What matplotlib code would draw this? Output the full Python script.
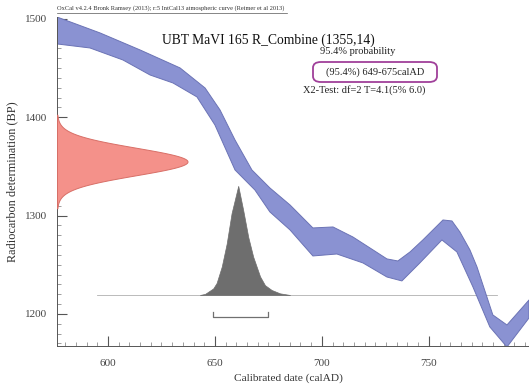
import numpy as np
import matplotlib
matplotlib.use("Agg")
import matplotlib.pyplot as plt
from matplotlib.patches import FancyBboxPatch

# ---- data ----
curve_upper_year = [576.2, 596.3, 615.0, 633.7, 645.4, 652.4, 659.4, 667.3, 675.7, 685.1,
                    695.8, 705.2, 714.5, 722.5, 730.4, 735.5, 741.2, 747.2, 756.6, 760.8,
                    764.5, 769.2, 772.5, 779.9, 786.5, 796.8]
curve_upper_bp = [1502.0, 1485.8, 1468.5, 1450.2, 1429.8, 1407.4, 1376.9, 1346.4, 1328.1, 1310.8,
                  1287.4, 1288.4, 1278.2, 1267.0, 1255.9, 1253.8, 1263.0, 1275.2, 1295.5, 1294.5,
                  1283.3, 1265.0, 1247.7, 1198.9, 1188.7, 1214.1]
curve_lower_year = [576.2, 591.6, 607.0, 619.7, 630.4, 641.6, 650.0, 659.4, 668.7, 675.7,
                    685.1, 695.8, 707.0, 719.2, 730.4, 737.4, 745.8, 756.1, 763.1, 770.6,
                    778.5, 786.5, 796.8]
curve_lower_bp = [1474.6, 1470.5, 1458.3, 1443.0, 1434.9, 1420.7, 1392.2, 1346.4, 1326.0, 1303.7,
                  1285.4, 1258.9, 1260.9, 1251.8, 1237.5, 1233.5, 1251.8, 1275.2, 1263.0, 1227.4,
                  1186.7, 1166.3, 1195.8]

c14_mean = 1355
c14_sigma = 14

post_year = [643.0, 645.4, 649.2, 650.8, 653.2, 655.5, 657.8, 660.9, 663.2, 665.6,
             667.9, 671.1, 673.4, 676.5, 680.4, 685.1]
post_prob = [0.0, 0.01, 0.06, 0.11, 0.26, 0.47, 0.75, 1.0, 0.78, 0.53,
             0.35, 0.17, 0.09, 0.046, 0.015, 0.0]

range_95 = [649, 675]
x_ticks = [600, 650, 700, 750]
y_ticks = [1200, 1300, 1400, 1500]

W, H = 529, 386
fig = plt.figure(figsize=(W / 100, H / 100), dpi=100)
ax = fig.add_axes([57 / W, 1 - 346 / H, 472 / W, 329 / H])
xlim = (576.2, 796.8)
ylim = (1167.3, 1502.0)
ax.set_xlim(*xlim)
ax.set_ylim(*ylim)

serif = ["Liberation Serif", "DejaVu Serif"]

# calibration curve band
poly_x = list(curve_upper_year) + list(curve_lower_year[::-1])
poly_y = list(curve_upper_bp) + list(curve_lower_bp[::-1])
ax.fill(poly_x, poly_y, facecolor="#8a92d2", edgecolor="#6b73b5", linewidth=0.7,
        joinstyle="round", zorder=2)

# radiocarbon date distribution on y-axis
yy = np.linspace(c14_mean - 3.4 * c14_sigma, c14_mean + 3.4 * c14_sigma, 300)
g = np.exp(-0.5 * ((yy - c14_mean) / c14_sigma) ** 2)
ax.fill_betweenx(yy, xlim[0], xlim[0] + 61 * g, facecolor="#f4918a", edgecolor="#d86f67",
                 linewidth=0.7, zorder=3)

# posterior distribution
base = 1219.2
ax.plot([594.9, 781.8], [base, base], color="#b0b0b0", linewidth=0.6, zorder=1)
ax.fill_between(post_year, base, base + 111 * np.array(post_prob), facecolor="#6e6e6e",
                edgecolor="#6e6e6e", linewidth=0.5, zorder=3)

# range bracket
rb = 1197.2
ax.plot([range_95[0], range_95[0], range_95[1], range_95[1]], [rb + 5, rb, rb, rb + 5],
        color="#707070", linewidth=0.9, zorder=3)

# axes styling
for s in ["top", "right"]:
    ax.spines[s].set_visible(False)
for s in ["left", "bottom"]:
    ax.spines[s].set_color("#555555")
    ax.spines[s].set_linewidth(0.7)
ax.set_xticks(x_ticks)
ax.set_yticks(y_ticks)
ax.set_xticks(np.arange(580, 800, 5), minor=True)
ax.set_yticks(np.arange(1170, 1501, 10), minor=True)
ax.tick_params(which="major", direction="in", length=7, width=0.8, color="#555555",
               labelsize=8, labelcolor="#444444")
ax.tick_params(axis="x", which="major", pad=9)
ax.tick_params(axis="y", which="major", pad=7)
ax.tick_params(which="minor", direction="in", length=3, width=0.5, color="#777777")
for lab in ax.get_xticklabels() + ax.get_yticklabels():
    lab.set_fontfamily(serif)

# axis labels placed at reference pixel positions
def ft(x, y, s, **kw):
    return fig.text(x / W, 1 - y / H, s, family=serif, **kw)

ft(288, 378, "Calibrated date (calAD)", fontsize=8.2, color="#333333", ha="center", va="center")
ft(12, 182, "Radiocarbon determination (BP)", fontsize=8.8, color="#333333", ha="center",
   va="center", rotation=90)

ft(57, 8.5, "OxCal v4.2.4 Bronk Ramsey (2013); r:5 IntCal13 atmospheric curve (Reimer et al 2013)",
   fontsize=4.6, color="#333333", va="center", ha="left")
fig.add_artist(plt.Line2D([57 / W, 287 / W], [1 - 12.5 / H, 1 - 12.5 / H], color="#555555",
                          linewidth=0.5))
ft(268, 40, "UBT MaVI 165 R_Combine (1355,14)", fontsize=9.8, color="#111111", ha="center", va="center")
ft(358, 52, "95.4% probability", fontsize=7.5, color="#222222", ha="center", va="center")
ft(375, 72, "(95.4%) 649-675calAD", fontsize=7.5, color="#222222", ha="center", va="center")
ft(364, 90, "X2-Test: df=2 T=4.1(5% 6.0)", fontsize=7.5, color="#222222", ha="center", va="center")

box = FancyBboxPatch((313 / W, 1 - 82 / H), 124 / W, 20 / H,
                     boxstyle="round,pad=0,rounding_size=0.015", transform=fig.transFigure,
                     facecolor="none", edgecolor="#a0409a", linewidth=1.3)
fig.add_artist(box)

fig.savefig("out.png", dpi=100)
